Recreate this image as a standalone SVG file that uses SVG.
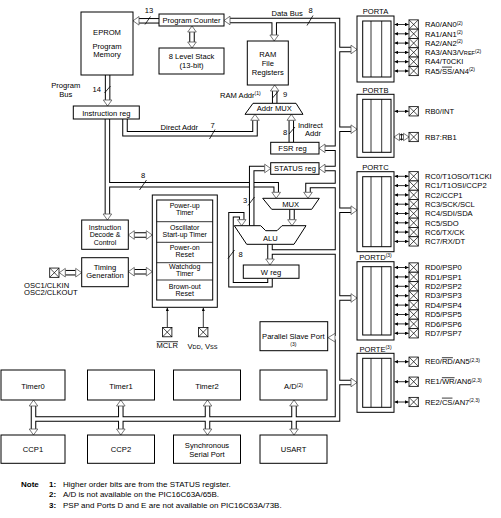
<svg xmlns="http://www.w3.org/2000/svg" width="501" height="518" viewBox="0 0 501 518">
<style>
text{font-family:"Liberation Sans",Arial,Helvetica,sans-serif;font-size:7.6px;fill:#000}
.m{text-anchor:middle}
.s{font-size:5px}
.sc{font-size:5.6px}
.pw{font-size:7px}
.b{fill:#fff;stroke:#000;stroke-width:1}
.ah{fill:#fff;stroke:#555;stroke-width:0.8}
.ln{fill:none;stroke:#000;stroke-width:0.8}
.pin{fill:none;stroke:#000;stroke-width:0.8;marker-start:url(#sa);marker-end:url(#sa)}
.bk{fill:none;stroke:#000;stroke-width:5.5}
.wh{fill:none;stroke:#fff;stroke-width:3.5}
.ol{text-decoration:overline}
.nb{font-weight:bold}
.nt{font-size:8px}
</style>
<defs>
<marker id="sa" viewBox="0 0 6 6" refX="6" refY="3" markerWidth="3.6" markerHeight="3.6" markerUnits="userSpaceOnUse" orient="auto-start-reverse"><path d="M0 0L6 3L0 6z" fill="#000"/></marker>
<marker id="ua" viewBox="0 0 6 6" refX="6" refY="3" markerWidth="3.6" markerHeight="3.6" markerUnits="userSpaceOnUse" orient="auto"><path d="M0 0L6 3L0 6z" fill="#000"/></marker>
<g id="xb"><rect width="9.3" height="9.3" fill="#fff" stroke="#000" stroke-width="0.8"/><path d="M0 0L9.3 9.3M9.3 0L0 9.3" stroke="#000" stroke-width="0.7"/></g>
<g id="buses">
<path d="M230 20.5H337.5V419H34"/>
<path d="M274.2 20.5V35"/>
<path d="M337.5 49.5H351M337.5 129.2H351M337.5 210.2H351M337.5 298H351M337.5 382.5H351"/>
<path d="M337.5 148.3H325M337.5 168.5H325"/>
<path d="M337.5 185.5H308V192.3"/>
<path d="M270 244.3V259M270 252H337.5"/>
<path d="M337.5 337.7H335"/>
<path d="M159 20.8H139"/>
<path d="M107.6 75V100"/>
<path d="M192 32V42"/>
<path d="M107.4 119V214"/>
<path d="M107.4 184.7H276.2V192.3"/>
<path d="M125 119V133.7H255V120.3"/>
<path d="M274.7 103.3V91"/>
<path d="M291.3 142.3V120.3"/>
<path d="M292 209.3V219.7"/>
<path d="M270 278.3V284.8H231V214.8H241.7V219.7"/>
<path d="M134.3 235H146.3M134.3 271.7H146.3"/>
<path d="M65.3 272.7H75.7"/>
<path d="M33.5 406V429M120.8 406V429M207.5 406V429M294 406V429"/>
<path d="M399.5 137H403.5"/>
</g>
<path id="cross" d="M251.7 225.7V168.5H264.7"/>
</defs>

<g id="connectors">
<use href="#buses" class="bk"/>
<use href="#buses" class="wh"/>
<use href="#cross" class="bk"/>
<use href="#cross" class="wh"/>
<g id="arrowheads">
<polygon class="ah" points="224,20.5 230,16.2 230,24.8"/>
<polygon class="ah" points="133,20.8 139,16.5 139,25.1"/>
<polygon class="ah" points="274.2,41 269.9,35 278.5,35"/>
<polygon class="ah" points="357,49.5 351,45.2 351,53.8"/>
<polygon class="ah" points="357,129.2 351,124.9 351,133.5"/>
<polygon class="ah" points="357,210.2 351,205.9 351,214.5"/>
<polygon class="ah" points="357,298 351,293.7 351,302.3"/>
<polygon class="ah" points="357,382.5 351,378.2 351,386.8"/>
<polygon class="ah" points="319,148.3 325,144 325,152.6"/>
<polygon class="ah" points="319,168.5 325,164.2 325,172.8"/>
<polygon class="ah" points="308,198.3 303.7,192.3 312.3,192.3"/>
<polygon class="ah" points="276.2,198.3 271.9,192.3 280.5,192.3"/>
<polygon class="ah" points="270,265 265.7,259 274.3,259"/>
<polygon class="ah" points="328,337.7 335,333.4 335,342"/>
<polygon class="ah" points="107.6,106 103.3,100 111.9,100"/>
<polygon class="ah" points="192,26 187.7,32 196.3,32"/>
<polygon class="ah" points="192,48 187.7,42 196.3,42"/>
<polygon class="ah" points="107.4,220 103.1,214 111.7,214"/>
<polygon class="ah" points="255,114.3 250.7,120.3 259.3,120.3"/>
<polygon class="ah" points="291.3,114.3 287,120.3 295.6,120.3"/>
<polygon class="ah" points="274.7,85 270.4,91 279,91"/>
<polygon class="ah" points="292,225.7 287.7,219.7 296.3,219.7"/>
<polygon class="ah" points="241.7,225.7 237.4,219.7 246,219.7"/>
<polygon class="ah" points="270.7,168.5 264.7,164.2 264.7,172.8"/>
<polygon class="ah" points="128.3,235 134.3,230.7 134.3,239.3"/>
<polygon class="ah" points="152.3,235 146.3,230.7 146.3,239.3"/>
<polygon class="ah" points="128.3,271.7 134.3,267.4 134.3,276"/>
<polygon class="ah" points="152.3,271.7 146.3,267.4 146.3,276"/>
<polygon class="ah" points="59.3,272.7 65.3,268.4 65.3,277"/>
<polygon class="ah" points="81.7,272.7 75.7,268.4 75.7,277"/>
<polygon class="ah" points="33.5,400 29.2,406 37.8,406"/>
<polygon class="ah" points="33.5,435 29.2,429 37.8,429"/>
<polygon class="ah" points="120.8,400 116.5,406 125.1,406"/>
<polygon class="ah" points="120.8,435 116.5,429 125.1,429"/>
<polygon class="ah" points="207.5,400 203.2,406 211.8,406"/>
<polygon class="ah" points="207.5,435 203.2,429 211.8,429"/>
<polygon class="ah" points="294,400 289.7,406 298.3,406"/>
<polygon class="ah" points="294,435 289.7,429 298.3,429"/>
<polygon class="ah" points="394,137 399.5,133.3 399.5,140.7"/>
<polygon class="ah" points="409,137 403.5,133.3 403.5,140.7"/>
</g>
<path class="ln" d="M401.5 133.5V140.5"/>
<g id="slashes">
<path class="ln" d="M145 24.5L150.5 16.5M104.5 93L110.5 86M307 25.5L313 15.5M272.5 98L278 91.5M209.5 139L215 129.5M289 134L295 127M139.5 190L146.5 180M248 205.5L254.5 197M228 258.5L234.5 250"/>
</g>
<g id="buslabels">
<text x="149" y="12.7" class="m">13</text>
<text x="96.7" y="92" class="m">14</text>
<text x="310.7" y="13.4" class="m">8</text>
<text x="271.5" y="16">Data Bus</text>
<text x="65.8" y="87.7" class="m">Program</text>
<text x="65.8" y="97" class="m">Bus</text>
<text x="220" y="97.7">RAM Addr<tspan class="s" dy="-2.6">(1)</tspan></text>
<text x="285" y="97" class="m">9</text>
<text x="179.3" y="130.4" class="m">Direct Addr</text>
<text x="212.7" y="128.4" class="m">7</text>
<text x="298" y="127.7">Indirect</text>
<text x="305" y="136">Addr</text>
<text x="285" y="135" class="m">8</text>
<text x="143" y="178.4" class="m">8</text>
<text x="245" y="203.4" class="m">3</text>
<text x="240.7" y="256.7" class="m">8</text>
</g>
<g id="pinarrows">
<path class="pin" d="M394.5 24.5H408.6"/>
<path class="pin" d="M394.5 33.8H408.6"/>
<path class="pin" d="M394.5 43.1H408.6"/>
<path class="pin" d="M394.5 52.4H408.6"/>
<path class="pin" d="M394.5 61.7H408.6"/>
<path class="pin" d="M394.5 71H408.6"/>
<path class="pin" d="M394.5 111.3H408.6"/>
<path class="pin" d="M394.5 176.3H408.6"/>
<path class="pin" d="M394.5 185.6H408.6"/>
<path class="pin" d="M394.5 194.9H408.6"/>
<path class="pin" d="M394.5 204.2H408.6"/>
<path class="pin" d="M394.5 213.5H408.6"/>
<path class="pin" d="M394.5 222.8H408.6"/>
<path class="pin" d="M394.5 232.1H408.6"/>
<path class="pin" d="M394.5 241.4H408.6"/>
<path class="pin" d="M394.5 267.5H408.6"/>
<path class="pin" d="M394.5 276.9H408.6"/>
<path class="pin" d="M394.5 286.3H408.6"/>
<path class="pin" d="M394.5 295.7H408.6"/>
<path class="pin" d="M394.5 305.1H408.6"/>
<path class="pin" d="M394.5 314.5H408.6"/>
<path class="pin" d="M394.5 323.9H408.6"/>
<path class="pin" d="M394.5 333.3H408.6"/>
<path class="pin" d="M394.5 361.7H408.6"/>
<path class="pin" d="M394.5 381.7H408.6"/>
<path class="pin" d="M394.5 402H408.6"/>
<path class="ln" d="M167.3 327.3V307.8" marker-end="url(#ua)"/>
<path class="ln" d="M203.3 327.3V307.8" marker-end="url(#ua)"/>
</g>
</g>

<g id="eprom"><rect class="b" x="81" y="12" width="52" height="63"/>
<text x="107" y="35.4" class="m">EPROM</text><text x="107" y="48.5" class="m">Program</text><text x="107" y="57" class="m">Memory</text></g>
<g id="pc"><rect class="b" x="159" y="14" width="65" height="12"/><text x="191.5" y="22.7" class="m">Program Counter</text></g>
<g id="stack"><rect class="b" x="159" y="48" width="65" height="26"/><text x="191.5" y="58.7" class="m">8 Level Stack</text><text x="191.5" y="67.5" class="m">(13-bit)</text></g>
<g id="ram"><rect class="b" x="247.3" y="41" width="41" height="44"/><text x="267.8" y="57.2" class="m">RAM</text><text x="267.8" y="66.2" class="m">File</text><text x="267.8" y="74.6" class="m">Registers</text></g>
<g id="instr"><rect class="b" x="73.3" y="106" width="66" height="13"/><text x="106.3" y="115.7" class="m">Instruction reg</text></g>
<g id="addrmux"><polygon class="b" points="253,103.3 296,103.3 303,114.3 245,114.3"/><text x="274.3" y="111.3" class="m">Addr MUX</text></g>
<g id="fsr"><rect class="b" x="270.7" y="142.3" width="48.3" height="11.7"/><text x="292.5" y="150.6" class="m">FSR reg</text></g>
<g id="status"><rect class="b" x="270.7" y="162.7" width="48.3" height="11.6"/><text x="295" y="171" class="m">STATUS reg</text></g>
<g id="mux"><polygon class="b" points="262.7,198.3 319.3,198.3 311.7,209.3 271.7,209.3"/><text x="290.7" y="207" class="m">MUX</text></g>
<g id="alu"><polygon class="b" points="234.3,225.7 260.7,225.7 265.7,230.7 277,230.7 282,225.7 306,225.7 294,244.3 246.7,244.3"/><text x="270.3" y="241" class="m">ALU</text></g>
<g id="wreg"><rect class="b" x="243.3" y="265" width="55.7" height="13.3"/><text x="271" y="275" class="m">W reg</text></g>
<g id="decode"><rect class="b" x="81.7" y="220" width="46.6" height="29.3"/><text x="105" y="229.8" class="m pw">Instruction</text><text x="105" y="237.2" class="m pw">Decode &amp;</text><text x="105" y="244.6" class="m pw">Control</text></g>
<g id="timing"><rect class="b" x="81.7" y="257.7" width="46.6" height="29"/><text x="105" y="270" class="m">Timing</text><text x="105" y="277.9" class="m">Generation</text></g>
<g id="osc"><use href="#xb" x="49.7" y="268.05"/><text x="24" y="287.7">OSC1/CLKIN</text><text x="24" y="295.4">OSC2/CLKOUT</text></g>
<g id="power"><rect class="b" x="152.3" y="195" width="65" height="112.3"/><rect class="b" x="156.7" y="200" width="56" height="100"/>
<path class="ln" d="M156.7 221.7H212.7M156.7 242.3H212.7M156.7 262.7H212.7M156.7 280H212.7" stroke-width="1"/>
<text x="184.7" y="208.4" class="m pw">Power-up</text><text x="184.7" y="215.4" class="m pw">Timer</text>
<text x="184.7" y="230" class="m pw">Oscillator</text><text x="184.7" y="237" class="m pw">Start-up Timer</text>
<text x="184.7" y="250" class="m pw">Power-on</text><text x="184.7" y="257" class="m pw">Reset</text>
<text x="184.7" y="269.4" class="m pw">Watchdog</text><text x="184.7" y="276.4" class="m pw">Timer</text>
<text x="184.7" y="289.2" class="m pw">Brown-out</text><text x="184.7" y="296.2" class="m pw">Reset</text></g>
<g id="mclr"><use href="#xb" x="162.6" y="327.5"/><text x="167.3" y="348.4" class="m ol">MCLR</text></g>
<g id="vdd"><use href="#xb" x="198.6" y="327.5"/><text x="202.5" y="348.7" class="m">V<tspan class="sc">DD</tspan>, V<tspan class="sc">SS</tspan></text></g>
<g id="psp"><rect class="b" x="260" y="321.7" width="67.7" height="29"/><text x="293.3" y="339.4" class="m">Parallel Slave Port</text><text x="293.3" y="346" class="m s">(3)</text></g>

<g id="porta"><text x="375.5" y="14.2" class="m">PORTA</text>
<rect class="b" x="357" y="16" width="37" height="66"/><rect class="b" x="362.7" y="21" width="28.3" height="56"/><path class="ln" stroke-width="1" d="M371 21V77M381.7 21V77"/>
<use href="#xb" x="409" y="19.85"/><use href="#xb" x="409" y="29.15"/><use href="#xb" x="409" y="38.45"/><use href="#xb" x="409" y="47.75"/><use href="#xb" x="409" y="57.05"/><use href="#xb" x="409" y="66.35"/>
<text x="425" y="27.2">RA0/AN0<tspan class="s" dy="-2.6">(2)</tspan></text>
<text x="425" y="36.5">RA1/AN1<tspan class="s" dy="-2.6">(2)</tspan></text>
<text x="425" y="45.8">RA2/AN2<tspan class="s" dy="-2.6">(2)</tspan></text>
<text x="425" y="55.1">RA3/AN3/V<tspan class="sc">REF</tspan><tspan class="s" dy="-2.6">(2)</tspan></text>
<text x="425" y="64.4">RA4/T0CKI</text>
<text x="425" y="73.7">RA5/<tspan class="ol">SS</tspan>/AN4<tspan class="s" dy="-2.6">(2)</tspan></text></g>

<g id="portb"><text x="375.5" y="92.6" class="m">PORTB</text>
<rect class="b" x="357" y="94.3" width="37" height="63"/><rect class="b" x="362.7" y="99.3" width="28.3" height="53"/><path class="ln" stroke-width="1" d="M371 99.3V152.3M381.7 99.3V152.3"/>
<use href="#xb" x="409" y="106.65"/><use href="#xb" x="409" y="132.35"/>
<text x="425" y="114">RB0/INT</text><text x="425" y="139.7">RB7:RB1</text></g>

<g id="portc"><text x="375.5" y="170" class="m">PORTC</text>
<rect class="b" x="357" y="171.7" width="37" height="80"/><rect class="b" x="362.7" y="176.7" width="28.3" height="70"/><path class="ln" stroke-width="1" d="M371 176.7V246.7M381.7 176.7V246.7"/>
<use href="#xb" x="409" y="171.65"/><use href="#xb" x="409" y="180.95"/><use href="#xb" x="409" y="190.25"/><use href="#xb" x="409" y="199.55"/><use href="#xb" x="409" y="208.85"/><use href="#xb" x="409" y="218.15"/><use href="#xb" x="409" y="227.45"/><use href="#xb" x="409" y="236.75"/>
<text x="425" y="179">RC0/T1OSO/T1CKI</text>
<text x="425" y="188.3">RC1/T1OSI/CCP2</text>
<text x="425" y="197.6">RC2/CCP1</text>
<text x="425" y="206.9">RC3/SCK/SCL</text>
<text x="425" y="216.2">RC4/SDI/SDA</text>
<text x="425" y="225.5">RC5/SDO</text>
<text x="425" y="234.8">RC6/TX/CK</text>
<text x="425" y="244.1">RC7/RX/DT</text></g>

<g id="portd"><text x="375.5" y="260" class="m">PORTD<tspan class="s" dy="-2.6">(3)</tspan></text>
<rect class="b" x="357" y="261.7" width="37" height="78.3"/><rect class="b" x="362.7" y="266.7" width="28.3" height="68.3"/><path class="ln" stroke-width="1" d="M371 266.7V335M381.7 266.7V335"/>
<use href="#xb" x="409" y="262.85"/><use href="#xb" x="409" y="272.25"/><use href="#xb" x="409" y="281.65"/><use href="#xb" x="409" y="291.05"/><use href="#xb" x="409" y="300.45"/><use href="#xb" x="409" y="309.85"/><use href="#xb" x="409" y="319.25"/><use href="#xb" x="409" y="328.65"/>
<text x="425" y="270.2">RD0/PSP0</text>
<text x="425" y="279.6">RD1/PSP1</text>
<text x="425" y="289">RD2/PSP2</text>
<text x="425" y="298.4">RD3/PSP3</text>
<text x="425" y="307.8">RD4/PSP4</text>
<text x="425" y="317.2">RD5/PSP5</text>
<text x="425" y="326.6">RD6/PSP6</text>
<text x="425" y="336">RD7/PSP7</text></g>

<g id="porte"><text x="375.5" y="351.6" class="m">PORTE<tspan class="s" dy="-2.6">(3)</tspan></text>
<rect class="b" x="357" y="353.3" width="37" height="59"/><rect class="b" x="362.7" y="358.3" width="28.3" height="49"/><path class="ln" stroke-width="1" d="M371 358.3V407.3M381.7 358.3V407.3"/>
<use href="#xb" x="409" y="357.05"/><use href="#xb" x="409" y="377.05"/><use href="#xb" x="409" y="397.35"/>
<text x="425" y="364.4">RE0/<tspan class="ol">RD</tspan>/AN5<tspan class="s" dy="-2.6">(2,3)</tspan></text>
<text x="425" y="384.4">RE1/<tspan class="ol">WR</tspan>/AN6<tspan class="s" dy="-2.6">(2,3)</tspan></text>
<text x="425" y="404.7">RE2/<tspan class="ol">CS</tspan>/AN7<tspan class="s" dy="-2.6">(2,3)</tspan></text></g>

<g id="timer0"><rect class="b" x="1" y="370" width="64" height="30"/><text x="33" y="389.4" class="m">Timer0</text></g>
<g id="timer1"><rect class="b" x="87.5" y="370" width="67" height="30"/><text x="121" y="389.4" class="m">Timer1</text></g>
<g id="timer2"><rect class="b" x="173.5" y="370" width="67" height="30"/><text x="207" y="389.4" class="m">Timer2</text></g>
<g id="ad"><rect class="b" x="260" y="370" width="67" height="30"/><text x="293.5" y="389.4" class="m">A/D<tspan class="s" dy="-2.6">(2)</tspan></text></g>
<g id="ccp1"><rect class="b" x="1" y="435" width="64" height="28.3"/><text x="33" y="451.7" class="m">CCP1</text></g>
<g id="ccp2"><rect class="b" x="87.5" y="435" width="67" height="28.3"/><text x="121" y="451.7" class="m">CCP2</text></g>
<g id="ssp"><rect class="b" x="173.5" y="435" width="67" height="28.3"/><text x="207" y="447.7" class="m">Synchronous</text><text x="207" y="456.7" class="m">Serial Port</text></g>
<g id="usart"><rect class="b" x="260" y="435" width="67" height="28.3"/><text x="293.5" y="451.7" class="m">USART</text></g>

<g id="notes">
<text x="21" y="487" class="nt nb">Note</text>
<text x="49" y="487" class="nt nb">1:</text><text x="63" y="487" class="nt">Higher order bits are from the STATUS register.</text>
<text x="49" y="497" class="nt nb">2:</text><text x="63" y="497" class="nt">A/D is not available on the PIC16C63A/65B.</text>
<text x="49" y="507.5" class="nt nb">3:</text><text x="63" y="507.5" class="nt">PSP and Ports D and E are not available on PIC16C63A/73B.</text>
</g>
</svg>
